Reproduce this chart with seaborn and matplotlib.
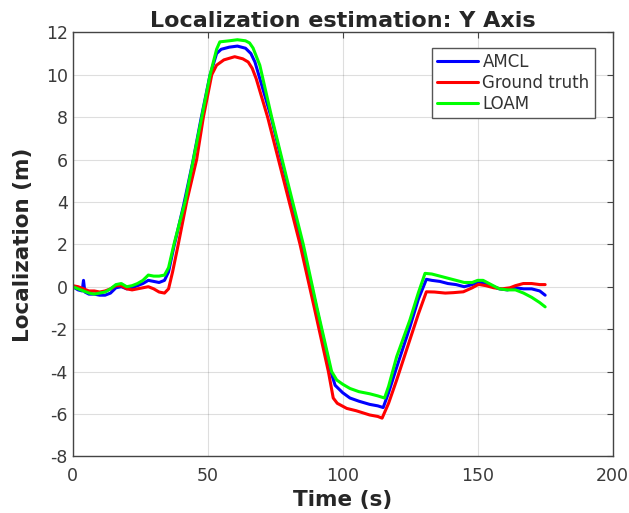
import numpy as np
import pandas as pd
import matplotlib
matplotlib.use("Agg")
import matplotlib.pyplot as plt
import seaborn as sns

# AMCL estimate
t_amcl = [0, 2, 3.5, 4, 4.5, 6, 8, 10, 12, 14,
          16, 18, 20, 22, 24, 26, 28, 30, 32, 34,
          35.5, 37.5, 41, 44.5, 47.5, 50.8, 53.3, 55, 58, 61,
          64, 66, 67.5, 69, 73.5, 79.2, 85.0, 90.3,
          95.6, 97.2, 100, 102.7, 106, 110, 113, 115, 117, 120,
          124.9, 128, 131, 133, 136, 139, 142, 145, 148, 150,
          152, 155, 158, 161, 164, 167, 170, 173, 175]
y_amcl = [0.0, -0.15, -0.2, 0.3, -0.25, -0.35, -0.35, -0.4, -0.4, -0.3,
          -0.05, 0.0, -0.1, -0.05, 0.05, 0.15, 0.3, 0.25, 0.2, 0.3,
          0.7, 1.9, 3.8, 5.9, 7.9, 9.95, 11.0, 11.2, 11.3, 11.35,
          11.25, 11.0, 10.6, 9.95, 8.0, 5.0, 2.0, -1.0,
          -4.0, -4.65, -5.0, -5.25, -5.4, -5.55, -5.62, -5.7, -5.0, -3.8,
          -1.9, -0.6, 0.35, 0.3, 0.25, 0.15, 0.1, 0.0, 0.1, 0.2,
          0.2, 0.05, -0.1, -0.15, -0.05, -0.1, -0.1, -0.2, -0.4]

# ground truth
t_gt = [0, 2, 4, 6, 8, 10, 12, 14, 16, 18,
        20, 22, 24, 26, 28, 30, 32, 34, 35.5, 37,
        39.1, 42.2, 45.9, 48.4, 51.5, 53.3, 56, 60, 63, 65,
        66.5, 68, 72.2, 78.2, 84.2, 89.5, 94.7, 96.5,
        98, 101.5, 105, 110, 113, 114.6, 117, 120, 124.9, 128,
        131, 134, 138, 141, 144.7, 148, 150.3, 153, 156, 159,
        162, 164, 166.9, 170, 173, 175]
y_gt = [0.05, 0.0, -0.1, -0.2, -0.2, -0.25, -0.2, -0.1, 0.05, 0.05,
        -0.1, -0.15, -0.1, -0.05, 0.0, -0.1, -0.25, -0.3, -0.1, 0.7,
        2.0, 4.0, 6.0, 8.0, 10.0, 10.45, 10.7, 10.85, 10.75, 10.6,
        10.3, 9.8, 8.0, 5.0, 2.0, -1.0, -4.0, -5.25,
        -5.5, -5.74, -5.85, -6.05, -6.12, -6.2, -5.5, -4.4, -2.5, -1.3,
        -0.24, -0.25, -0.3, -0.28, -0.24, -0.05, 0.11, 0.05, -0.05, -0.1,
        -0.05, 0.05, 0.15, 0.15, 0.1, 0.1]

# LOAM estimate
t_loam = [0, 2, 4, 6, 8, 10, 12, 14, 16, 18,
          20, 22, 24, 26, 28, 30, 32, 34, 35.5, 37.5,
          41.6, 44.7, 47.8, 50.9, 53.3, 54.5, 58, 61, 64, 65.5,
          66.8, 69.3, 73.7, 79.5, 85.4, 90.5, 95.9, 97.8,
          100, 102.7, 106, 110, 113, 115.5, 117, 120, 124.9, 128,
          130.5, 133, 136, 139, 142, 145, 148, 150, 152, 155,
          158, 161, 164, 167, 170, 173, 175]
y_loam = [0.0, -0.1, -0.2, -0.3, -0.35, -0.3, -0.25, -0.1, 0.1, 0.15,
          0.0, 0.05, 0.15, 0.3, 0.55, 0.5, 0.5, 0.55, 0.9, 2.0,
          4.0, 6.0, 8.0, 10.0, 11.2, 11.55, 11.6, 11.65, 11.6, 11.5,
          11.26, 10.45, 8.0, 5.0, 2.0, -1.0, -4.0, -4.4,
          -4.6, -4.8, -4.95, -5.05, -5.15, -5.25, -4.7, -3.3, -1.57, -0.3,
          0.63, 0.6, 0.5, 0.4, 0.3, 0.2, 0.2, 0.3, 0.3, 0.1,
          -0.1, -0.15, -0.15, -0.3, -0.5, -0.75, -0.95]

series = [("AMCL", t_amcl, y_amcl, "#0000ff"),
          ("Ground truth", t_gt, y_gt, "#ff0000"),
          ("LOAM", t_loam, y_loam, "#00ff00")]

sns.set_style("white")
plt.rcParams['font.family'] = ['DejaVu Sans']
plt.rcParams['axes.unicode_minus'] = False

fig = plt.figure(figsize=(6.29, 5.13), dpi=100)
ax = fig.add_axes([0.1156, 0.1105, 0.8584, 0.8265])

for name, t, y, col in series:
    df = pd.DataFrame({"t": t, "y": y})
    sns.lineplot(data=df, x="t", y="y", color=col, label=name, linewidth=2.2,
                 estimator=None, sort=False, ax=ax)

ax.set_xlim(0, 200)
ax.set_ylim(-8, 12)
ax.set_xticks(np.arange(0, 201, 50))
ax.set_yticks(np.arange(-8, 13, 2))
ax.grid(True, color="#262626", alpha=0.15, linewidth=0.8)
for s in ax.spines.values():
    s.set_color("#444444")
    s.set_linewidth(1)
ax.tick_params(direction="in", top=True, right=True, length=4, width=0.8,
               colors="#444444", labelcolor="#3a3a3a", labelsize=12.5)
ax.tick_params(axis="x", pad=8)

ax.set_title("Localization estimation: Y Axis", fontsize=16, fontweight="bold", pad=4)
ax.set_xlabel("Time (s)", fontsize=15.5, fontweight="bold", labelpad=3)
ax.set_ylabel("Localization (m)", fontsize=15.5, fontweight="bold", labelpad=9)

leg = ax.legend(loc="upper right", bbox_to_anchor=(0.9665, 0.963), borderaxespad=0,
                fontsize=12, handlelength=2.5, handletextpad=0.25, fancybox=False,
                framealpha=1, edgecolor="#555555", borderpad=0.3, labelspacing=0.18)
for txt in leg.get_texts():
    txt.set_color("#333333")

fig.savefig("out.png", dpi=100)
